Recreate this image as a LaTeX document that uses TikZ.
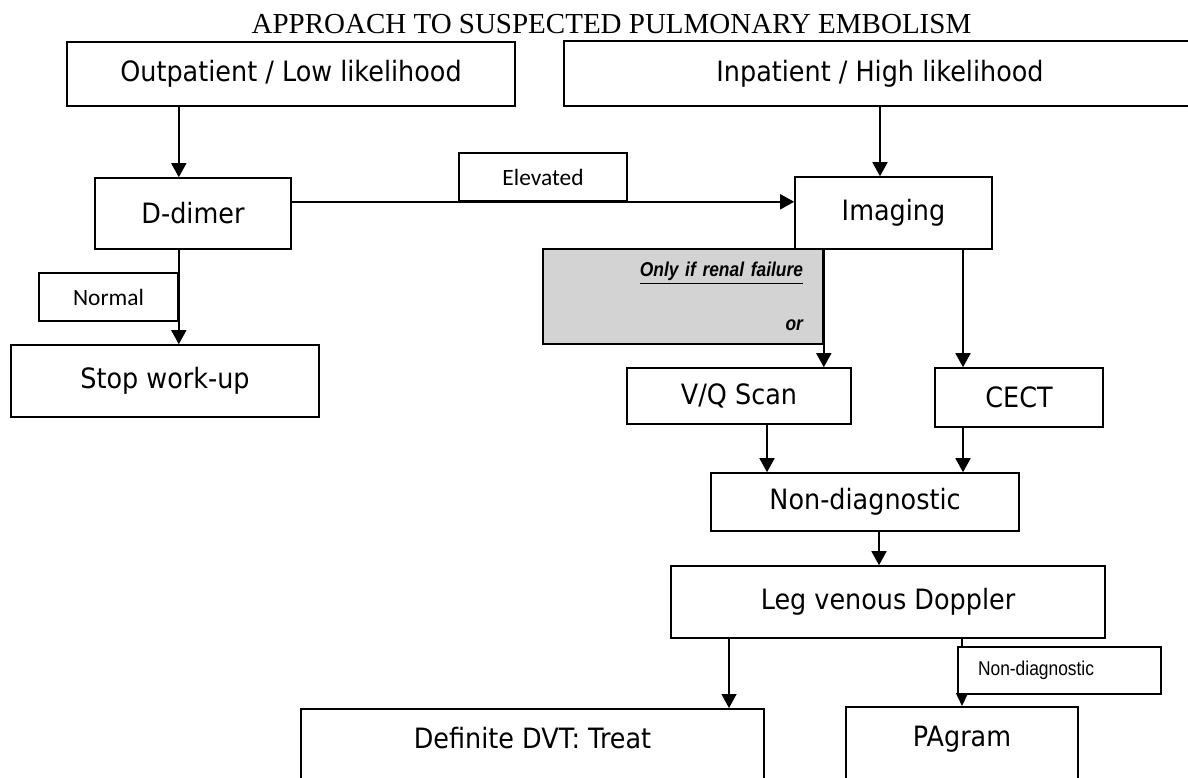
\documentclass[tikz,border=0pt]{standalone}
\usepackage{fontspec}
\setmainfont{Liberation Serif}
\newfontfamily\boxfont{DejaVu Sans}[FakeStretch=0.91]
\newfontfamily\labfont{Carlito}
\newfontfamily\narrowfont{Liberation Sans}[FakeStretch=0.87]
\usetikzlibrary{arrows.meta}
\definecolor{notegray}{RGB}{211,211,211}
\tikzset{
  stepbox/.style={draw, line width=0.8pt, fill=white, inner sep=0pt, font=\boxfont\fontsize{14}{17}\selectfont},
  topbox/.style={stepbox, inner ysep=4pt, text height=16pt, text depth=40pt, anchor=north},
  tagbox/.style={draw, line width=0.8pt, fill=white, inner sep=0pt, font=\labfont\fontsize{11.7}{14}\selectfont},
  flow/.style={line width=0.8pt, -{Triangle[length=7pt,width=7.5pt]}},
}
\begin{document}
\begin{tikzpicture}[x=0.5pt, y=-0.5pt]
    \useasboundingbox (0,0) rectangle (1188,777);
    \clip (0,0) rectangle (1188,777);
    \node[anchor=base, font=\fontsize{14.5}{17}\selectfont] (title) at (611.5,33) {APPROACH TO SUSPECTED PULMONARY EMBOLISM};
    % main steps
    \node[stepbox, minimum width=224pt, minimum height=32pt] (out) at (291,74) {Outpatient / Low likelihood};
    \node[stepbox, minimum width=316pt, minimum height=32.5pt] (inp) at (880,73.5) {Inpatient / High likelihood};
    \node[stepbox, minimum width=98pt, minimum height=35.5pt] (ddimer) at (193,213.5) {D-dimer};
    \node[stepbox, minimum width=98.5pt, minimum height=36pt] (imaging) at (893.5,213) {Imaging};
    \node[stepbox, minimum width=154pt, minimum height=36pt] (stop) at (165,381) {Stop work-up};
    \node[stepbox, minimum width=112pt, minimum height=28pt] (vq) at (739,396) {V/Q Scan};
    \node[stepbox, minimum width=84pt, minimum height=29.5pt] (cect) at (1019,397.5) {CECT};
    \node[stepbox, minimum width=154pt, minimum height=29pt] (nondiag) at (865,502) {Non-diagnostic};
    \node[stepbox, minimum width=217pt, minimum height=36pt] (leg) at (888,602) {Leg venous Doppler};
    \node[topbox, minimum width=231.5pt] (dvt) at (532.5,708) {Definite DVT: Treat};
    \node[topbox, minimum width=116pt] (pagram) at (962,706) {PAgram};
    % grey note
    \node[draw, line width=0.8pt, fill=notegray, minimum width=140pt, minimum height=47.5pt,
          text width=120pt, inner xsep=10pt, inner ysep=0pt, align=right,
          font=\narrowfont\fontsize{10}{12}\selectfont\bfseries\itshape] (note) at (683,296.5)
          {\underline{Only if renal failure}\\[15pt] or};
    \coordinate (ctcol) at ([xshift=34.75pt]imaging.south);
    \coordinate (vqcol) at ([xshift=14pt]vq.south);
    \coordinate (ndcol) at ([xshift=7pt]nondiag.south);
    \coordinate (dvtcol) at ([xshift=-79.5pt]leg.south);
    % labels
    \node[tagbox, minimum width=84pt, minimum height=24pt] (elev) at (543,177) {Elevated};
    \node[tagbox, minimum width=69.5pt, minimum height=24pt] (normal) at (108.5,297) {Normal};
    \draw[flow] (normal.east |- out.south) -- (normal.east |- ddimer.north);
    \draw[flow] (inp.south) -- (inp.south |- imaging.north);
    \draw[flow] (ddimer.east |- elev.south) -- (imaging.west |- elev.south);
    \draw[flow] (normal.east |- ddimer.south) -- (normal.east |- stop.north);
    \draw[flow] (note.east |- imaging.south) -- (note.east |- vq.north);
    \draw[flow] (ctcol) -- (ctcol |- cect.north);
    \draw[flow] (vqcol) -- (vqcol |- nondiag.north);
    \draw[flow] (ctcol |- cect.south) -- (ctcol |- nondiag.north);
    \draw[flow] (ndcol) -- (ndcol |- leg.north);
    \draw[flow] (dvtcol) -- (dvtcol |- dvt.north);
    \draw[line width=0.8pt, -{Triangle[length=6.5pt,width=6pt]}] (pagram.north |- leg.south) -- (pagram.north);
    \node[tagbox, font=\narrowfont\fontsize{10}{12}\selectfont, minimum height=23.5pt,
          text width=81.5pt, inner xsep=10pt, align=left] (ndlab) at (1059.5,670.5) {Non-diagnostic};
    % redraw label frames on top of the lines
    \node[tagbox, minimum width=84pt, minimum height=24pt] at (elev) {Elevated};
    \node[tagbox, minimum width=69.5pt, minimum height=24pt] at (normal) {Normal};
\end{tikzpicture}
\end{document}
